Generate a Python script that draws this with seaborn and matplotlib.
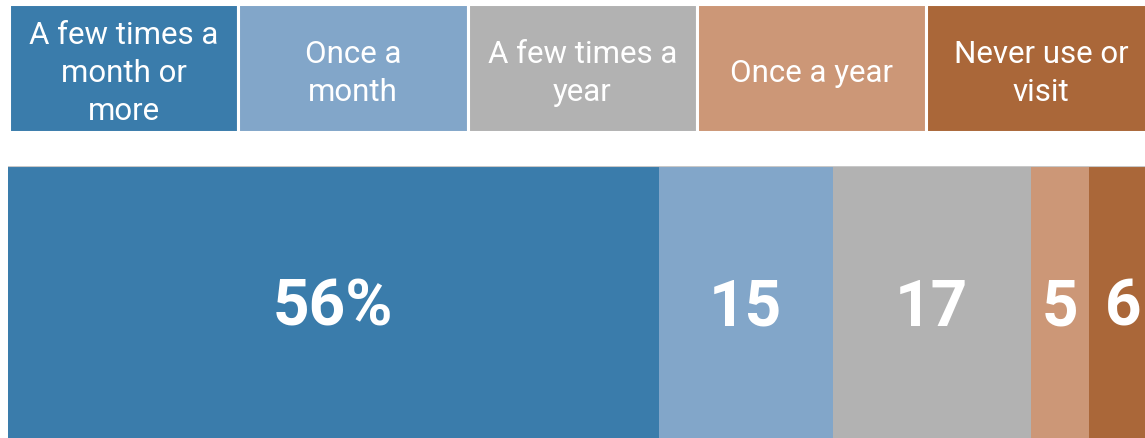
import numpy as np
import matplotlib
matplotlib.use("Agg")
import matplotlib.pyplot as plt
import seaborn as sns

categories = ["A few times a\nmonth or\nmore", "Once a\nmonth", "A few times a\nyear",
              "Once a year", "Never use or\nvisit"]
values = [56, 15, 17, 5, 6]
labels = ["56%", "15", "17", "5", "6"]
colors = ["#3A7CAB", "#82A6C9", "#B2B2B2", "#CC9777", "#AA6739"]

sns.set_theme(style="white")
plt.rcParams["font.family"] = ["Roboto", "DejaVu Sans"]

fig = plt.figure(figsize=(11.45, 4.38), dpi=100)

# header cells acting as legend
W, H = 1145, 438
lax = fig.add_axes([9 / W, 1 - 132 / H, (W - 9) / W, 128 / H])
n = len(categories)
lax.barh(np.zeros(n), np.ones(n), left=np.arange(n), height=1, color=colors,
         edgecolor="white", linewidth=2.2)
for i, cat in enumerate(categories):
    lax.text(i + 0.5, -0.045, cat, ha="center", va="center", color="white",
             fontsize=22.5, linespacing=1.4)
lax.set_xlim(0, 1136 / 229.3)
lax.set_ylim(-0.5, 0.5)
lax.axis("off")

# main stacked bar
ax = fig.add_axes([8 / W, 0, (W - 8) / W, 272 / H])
cum = np.cumsum(values)
left = cum - np.array(values)
for i in reversed(range(n)):
    sns.barplot(x=[cum[i]], y=[0], orient="h", color=colors[i], saturation=1,
                width=1, linewidth=0, ax=ax)
for i in range(n):
    ax.text(left[i] + values[i] / 2, 0.088, labels[i], ha="center", va="baseline",
            color="white", fontsize=46, fontweight="bold")
ax.set_xlim(0, 1137 / 11.62)
ax.set_ylim(0.5, -0.5)
ax.axhline(-0.5, color="#C8C8C8", lw=1.5)
ax.axis("off")

fig.savefig("out.png", dpi=100)
